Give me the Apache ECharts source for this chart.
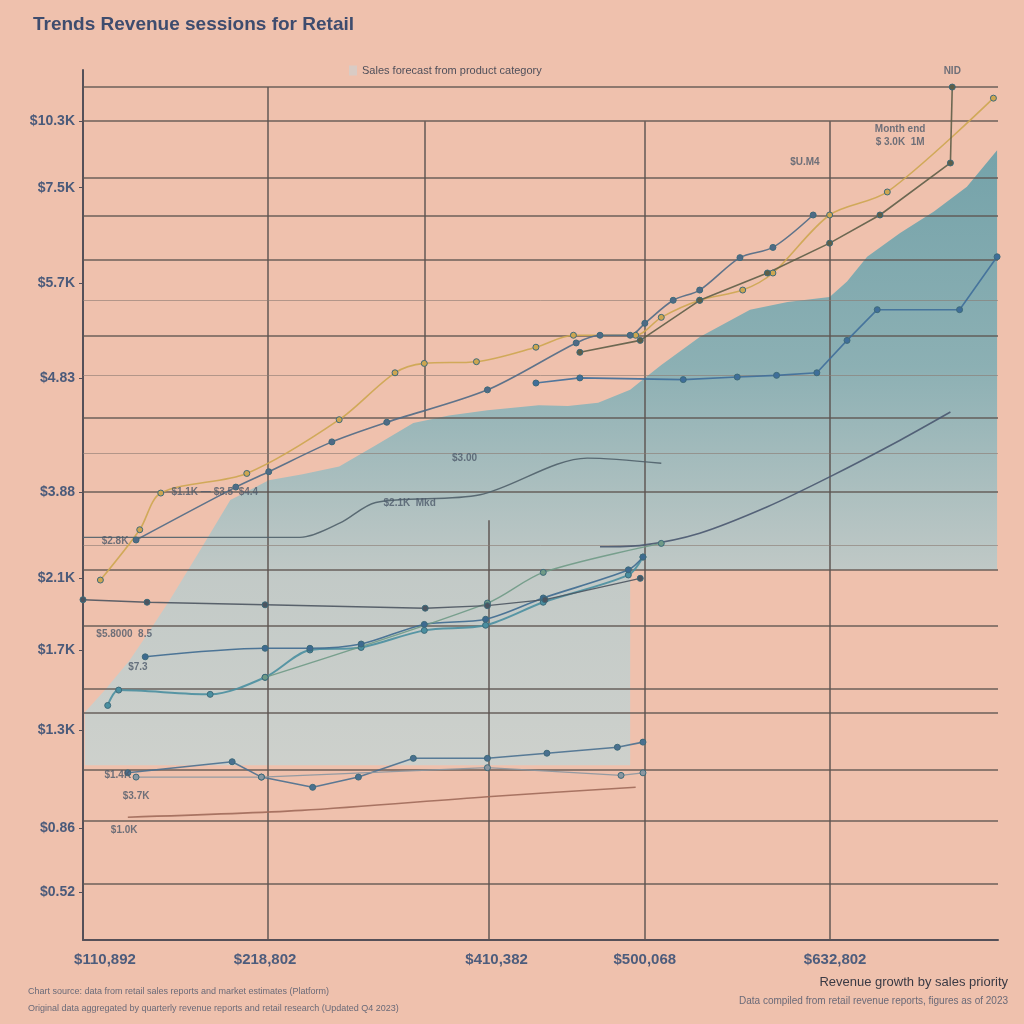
<!DOCTYPE html>
<html>
<head>
<meta charset="utf-8">
<script src="https://cdn.jsdelivr.net/npm/echarts@6/dist/echarts.min.js"></script>
<style>html,body{margin:0;padding:0;background:#efc1ad;}#c{width:1024px;height:1024px;}</style>
</head>
<body>
<div id="c"></div>
<script>
// ---------- data ----------
const titleText = 'Trends Revenue sessions for Retail';
const legendText = 'Sales forecast from product category';
const xLabelPos = [2.4, 19.9, 45.2, 61.4, 82.2];
const xLabels = ['$110,892', '$218,802', '$410,382', '$500,068', '$632,802'];
const yLabelPos = [96.0, 88.2, 77.0, 65.9, 52.5, 42.4, 34.0, 24.6, 13.1, 5.6];
const yLabels = ['$10.3K', '$7.5K', '$5.7K', '$4.83', '$3.88', '$2.1K', '$1.7K', '$1.3K', '$0.86', '$0.52'];

// band (forecast range)
const bandX    = [0.2, 2.4, 5.1, 7.3, 9.5, 12.8, 16.1, 18.3, 20.3, 24.0, 28.0, 32.0, 36.1, 40.0, 44.2, 49.8, 53.0, 56.3, 59.8, 59.8, 61.2, 63.2, 67.4, 72.9, 77.0, 81.6, 83.5, 85.7, 89.3, 93.0, 96.6, 99.9];
const bandHigh = [26.7, 29.3, 32.8, 36.3, 39.9, 45.7, 51.6, 52.8, 53.9, 54.6, 55.5, 58.0, 60.6, 61.5, 62.1, 62.7, 62.6, 63.0, 64.5, 64.5, 65.7, 67.4, 70.7, 73.9, 74.8, 75.4, 77.2, 80.1, 82.9, 85.4, 88.3, 92.6];
const bandLow  = [20.5, 20.5, 20.5, 20.5, 20.5, 20.5, 20.5, 20.5, 20.5, 20.5, 20.5, 20.5, 20.5, 20.5, 20.5, 20.5, 20.5, 20.5, 20.5, 43.4, 43.4, 43.4, 43.4, 43.4, 43.4, 43.4, 43.4, 43.4, 43.4, 43.4, 43.4, 43.4];

const goldLine = [[1.9,42.2],[6.2,48.1],[8.5,52.4],[17.9,54.7],[28.0,61.0],[34.1,66.5],[37.3,67.6],[43.0,67.8],[49.5,69.5],[53.6,70.9],[60.4,70.9],[63.2,73.0],[67.4,75.0],[72.1,76.2],[75.4,78.2],[81.6,85.0],[87.9,87.7],[99.5,98.7]];
const slateLine = [[5.8,46.9],[16.7,53.1],[20.3,54.9],[27.2,58.4],[33.2,60.7],[44.2,64.5],[53.9,70.0],[56.5,70.9],[59.8,70.9],[61.4,72.3],[64.5,75.0],[67.4,76.2],[71.8,80.0],[75.4,81.2],[79.8,85.0]];
const oliveLine = [[54.3,68.9],[60.9,70.3],[67.4,75.0],[74.8,78.2],[81.6,81.7],[87.1,85.0],[94.8,91.1],[95.0,100]];
const bandBlueLine = [[49.5,65.3],[54.3,65.9],[65.6,65.7],[71.5,66.0],[75.8,66.2],[80.2,66.5],[83.5,70.3],[86.8,73.9],[95.8,73.9],[99.9,80.1]];
const darkLine = [[0,47.2],[23.7,47.2],[28.1,48.9],[32.0,51.3],[43.4,52.2],[55.1,56.5],[63.2,55.9]];
const curveLine = [[56.5,46.1],[61.2,46.3],[67.4,47.7],[74.8,50.8],[81.6,54.3],[89.3,58.6],[94.8,61.9]];
const tealLine = [[2.7,27.5],[3.9,29.3],[13.9,28.8],[19.9,30.8],[24.8,34.0],[30.4,34.3],[37.3,36.3],[44.0,36.9],[50.3,39.6],[59.6,42.8],[61.2,44.9]];
const blueLine2 = [[6.8,33.2],[19.9,34.2],[24.8,34.2],[30.4,34.7],[37.3,37.0],[44.0,37.6],[50.3,40.1],[59.6,43.4],[61.2,44.9]];
const greenLine = [[19.9,30.8],[44.2,39.5],[50.3,43.1],[63.2,46.5]];
const flatLine = [[0,39.9],[7.0,39.6],[19.9,39.3],[37.4,38.9],[44.2,39.2],[50.5,39.9],[60.9,42.4]];
const lowBlue = [[4.9,19.6],[16.3,20.9],[19.5,19.1],[25.1,17.9],[30.1,19.1],[36.1,21.3],[44.2,21.3],[50.7,21.9],[58.4,22.6],[61.2,23.2]];
const lowGrey = [[5.8,19.1],[19.5,19.1],[44.2,20.2],[58.8,19.3],[61.2,19.6]];
const brownLine = [[4.9,14.4],[23.9,15.2],[44.2,16.8],[60.4,17.9]];

const notes = [
  [95.0, 101.8, 'NID'],
  [89.3, 94.3, 'Month end\n$ 3.0K  1M'],
  [78.9, 91.2, '$U.M4'],
  [14.4, 52.5, '$1.1K — $3.5  $4.4'],
  [3.5, 46.7, '$2.8K'],
  [4.5, 35.8, '$5.8000  8.5'],
  [6.0, 32.0, '$7.3'],
  [3.8, 19.3, '$1.4K'],
  [5.8, 16.8, '$3.7K'],
  [4.5, 12.9, '$1.0K'],
  [41.7, 56.5, '$3.00'],
  [35.7, 51.2, '$2.1K  Mkd']
];

// gridlines [value, from, to]
const hGrid = [[100,0,100],[96.0,0,100],[89.4,0,100],[84.9,0,100],[79.8,0,100],[70.9,0,100],[61.2,0,100],[52.5,0,100],[43.4,0,100],[36.8,0,100],[29.5,0,100],[26.6,0,100],[20.0,0,100],[14.0,0,100],[6.6,0,100]];
const hGridLight = [[75.0,0,100],[66.2,0,100],[57.1,0,100],[46.3,0,100]];
const vGrid = [[20.2,0,100],[37.4,61.2,96.0],[44.3,0,49.2],[61.4,0,96.0],[81.6,0,96.0]];

const footLeft = 'Chart source: data from retail sales reports and market estimates (Platform)\nOriginal data aggregated by quarterly revenue reports and retail research (Updated Q4 2023)';
const footRight1 = 'Revenue growth by sales priority';
const footRight2 = 'Data compiled from retail revenue reports, figures as of 2023';

// ---------- chart ----------
const FONT = 'Liberation Sans';
const chart = echarts.init(document.getElementById('c'), null, {renderer: 'canvas'});
const nearest = (arr, v) => { let b = 0; arr.forEach((a, i) => { if (Math.abs(a - v) < Math.abs(arr[b] - v)) b = i; }); return b; };

function lineSeries(name, data, color, width, opts) {
  return Object.assign({
    name, type: 'line', data, smooth: 0.3,
    symbol: 'circle', symbolSize: 6, showSymbol: true,
    lineStyle: {color, width: width, opacity: 0.9},
    itemStyle: {color, borderColor: '#3d6a7a', borderWidth: 1},
    z: 5
  }, opts || {});
}

const gridMark = {
  silent: true, symbol: 'none', label: {show: false}, animation: false,
  lineStyle: {color: '#5d5451', width: 1.6, type: 'solid', opacity: 0.9},
  data: hGrid.map(g => [{coord: [g[1], g[0]]}, {coord: [g[2], g[0]]}])
    .concat(vGrid.map(g => [{coord: [g[0], g[1]]}, {coord: [g[0], g[2]]}]))
    .concat(hGridLight.map(g => [{coord: [g[1], g[0]], lineStyle: {color: '#8a7a72', width: 1, opacity: 0.6}}, {coord: [g[2], g[0]]}]))
};

const bandFill = new echarts.graphic.LinearGradient(0, 0, 0, 1, [
  {offset: 0, color: '#5a9ca9'},
  {offset: 0.35, color: '#76acb5'},
  {offset: 0.7, color: '#b9cccd'},
  {offset: 1, color: '#c6d4d3'}
]);

const option = {
  backgroundColor: '#efc1ad',
  animation: false,
  title: {
    text: titleText, left: 28, top: 10,
    textStyle: {fontFamily: FONT, fontSize: 19, fontWeight: 'bold', color: '#3e4c6e'}
  },
  legend: {
    data: [legendText], left: 344, top: 60, itemWidth: 8, itemHeight: 10, icon: 'rect',
    textStyle: {fontFamily: FONT, fontSize: 11, color: '#4f4f5a'}
  },
  grid: {left: 83, right: 26, top: 70, bottom: 84},
  xAxis: {
    type: 'value', min: 0, max: 100,
    splitLine: {show: false},
    axisLine: {show: true, lineStyle: {color: '#555058', width: 2}},
    axisTick: {show: false},
    axisLabel: {
      customValues: xLabelPos, margin: 12,
      formatter: v => xLabels[nearest(xLabelPos, v)],
      fontFamily: FONT, fontWeight: 'bold', fontSize: 15, color: '#4d5c7c'
    }
  },
  yAxis: {
    type: 'value', min: 0, max: 102,
    splitLine: {show: false},
    axisLine: {show: true, lineStyle: {color: '#555058', width: 2}},
    axisTick: {show: true, customValues: yLabelPos, length: 4, lineStyle: {color: '#555058'}},
    axisLabel: {
      customValues: yLabelPos, margin: 8,
      formatter: v => yLabels[nearest(yLabelPos, v)],
      fontFamily: FONT, fontWeight: 'bold', fontSize: 14, color: '#4a5a7a'
    }
  },
  series: [
    {
      name: 'gridlines', type: 'line', symbol: 'none', silent: true,
      data: bandX.map((x, i) => [x, bandLow[i]]),
      lineStyle: {width: 0, opacity: 0}, z: 1,
      markLine: gridMark
    },
    {
      name: legendText, type: 'custom', z: 2, silent: true,
      itemStyle: {color: '#d9cbc4'},
      data: bandX.map((x, i) => [x, bandLow[i], bandHigh[i]]),
      encode: {x: 0, y: [1, 2]},
      renderItem: function (params, api) {
        if (params.dataIndex !== 0) return null;
        const upper = bandX.map((x, i) => api.coord([x, bandHigh[i]]));
        const lower = bandX.map((x, i) => api.coord([x, bandLow[i]])).reverse();
        return {
          type: 'polygon',
          shape: {points: upper.concat(lower), smooth: 0},
          style: {fill: bandFill, opacity: 0.82}
        };
      }
    },
    lineSeries('Gold', goldLine, '#cda650', 1.6),
    lineSeries('Slate', slateLine, '#4f6a86', 1.6),
    lineSeries('Olive', oliveLine, '#5e5e48', 1.6, {smooth: false}),
    lineSeries('Band blue', bandBlueLine, '#3f6e9a', 1.6, {smooth: false}),
    lineSeries('Dark', darkLine, '#50606a', 1.4, {symbolSize: 0}),
    lineSeries('Curve', curveLine, '#4a5870', 1.6, {showSymbol: false}),
    lineSeries('Teal', tealLine, '#4a8fa0', 2),
    lineSeries('Blue', blueLine2, '#3e6a90', 1.6),
    lineSeries('Green', greenLine, '#6f9a86', 1.4),
    lineSeries('Flat', flatLine, '#4d5560', 1.4, {smooth: false}),
    lineSeries('Low blue', lowBlue, '#4a7090', 1.6, {smooth: false}),
    lineSeries('Low grey', lowGrey, '#8a96a0', 1.2, {smooth: false}),
    lineSeries('Brown', brownLine, '#a06a5a', 1.6, {showSymbol: false}),
    {
      name: 'notes', type: 'scatter', symbolSize: 0, silent: true, z: 6,
      data: notes.map(n => ({value: [n[0], n[1]], label: {formatter: n[2]}})),
      label: {show: true, position: 'inside', fontFamily: FONT, fontSize: 10, fontWeight: 'bold', color: '#4d5a6a', lineHeight: 13}
    }
  ],
  graphic: [
    {type: 'text', left: 28, top: 983, style: {text: footLeft, fontFamily: FONT, fontSize: 9, lineHeight: 17, fill: '#6a6a78'}},
    {type: 'text', right: 16, top: 976, style: {text: footRight1, fontFamily: FONT, fontSize: 13, fill: '#3a3a44', align: 'right'}},
    {type: 'text', right: 16, top: 996, style: {text: footRight2, fontFamily: FONT, fontSize: 10, fill: '#6a6a78', align: 'right'}}
  ]
};
chart.setOption(option);
</script>
</body>
</html>
